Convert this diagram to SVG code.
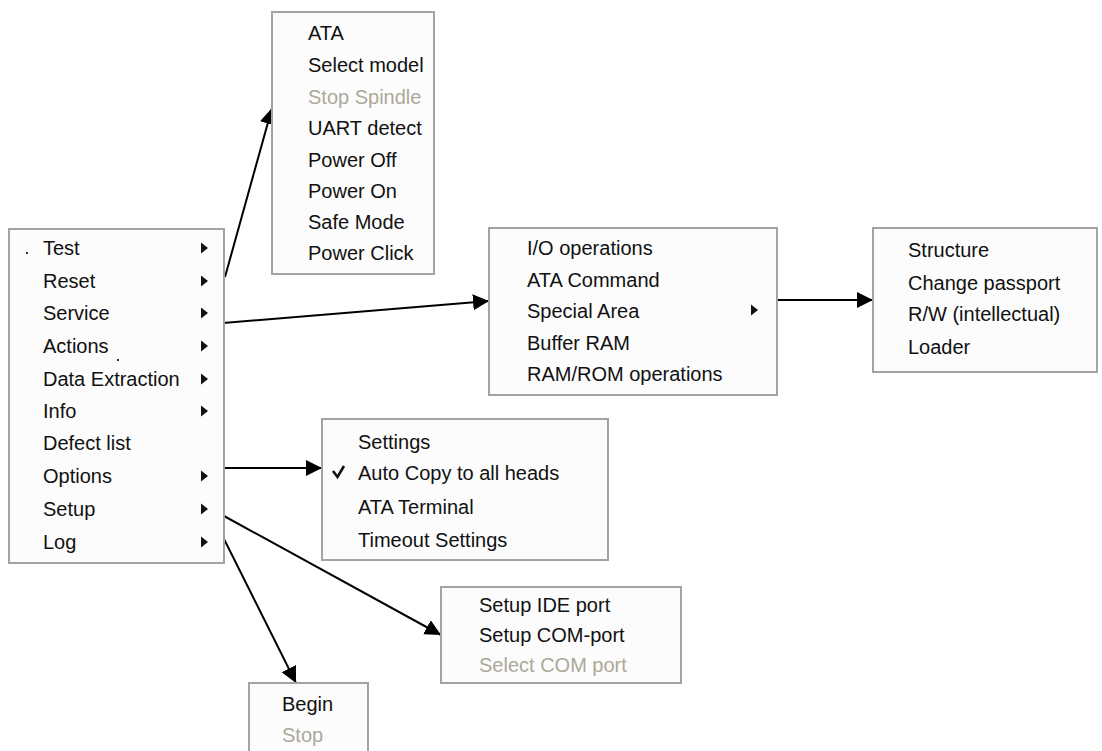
<svg xmlns="http://www.w3.org/2000/svg" width="1102" height="751" viewBox="0 0 1102 751">
<style>
.box{fill:#fcfcfc;stroke:#a3a3a3;stroke-width:2}
.t{font-family:"Liberation Sans",Arial,sans-serif;font-size:20px;fill:#111}
.g{fill:#aca899}
.tri{fill:#111}
.c{stroke:#000;stroke-width:2;fill:none;marker-end:url(#ah)}
</style>
<defs>
<marker id="ah" markerUnits="userSpaceOnUse" markerWidth="16" markerHeight="16" refX="16" refY="8" orient="auto">
<path d="M0,0 L16,8 L0,16 z" fill="#000"/>
</marker>
</defs>
<rect width="1102" height="751" fill="#fff"/>
<g id="connectors">
<line class="c" x1="225" y1="277" x2="272" y2="108"/>
<line class="c" x1="223" y1="323" x2="489" y2="301"/>
<line class="c" x1="777" y1="300" x2="873" y2="300"/>
<line class="c" x1="224" y1="468" x2="322" y2="468"/>
<line class="c" x1="224" y1="516" x2="441" y2="635"/>
<line class="c" x1="224" y1="539" x2="296" y2="683"/>
</g>
<g id="main-menu">
<rect class="box" x="9" y="229" width="215" height="334"/>
<rect x="26" y="252" width="2" height="2" fill="#333"/>
<rect x="117" y="359" width="2" height="2" fill="#333"/>
<text class="t" x="43" y="255">Test</text>
<text class="t" x="43" y="288">Reset</text>
<text class="t" x="43" y="320">Service</text>
<text class="t" x="43" y="353">Actions</text>
<text class="t" x="43" y="386">Data Extraction</text>
<text class="t" x="43" y="418">Info</text>
<text class="t" x="43" y="450">Defect list</text>
<text class="t" x="43" y="483">Options</text>
<text class="t" x="43" y="516">Setup</text>
<text class="t" x="43" y="549">Log</text>
<path class="tri" d="M201,242.5 L208,248 L201,253.5z"/>
<path class="tri" d="M201,275.5 L208,281 L201,286.5z"/>
<path class="tri" d="M201,307.5 L208,313 L201,318.5z"/>
<path class="tri" d="M201,340.5 L208,346 L201,351.5z"/>
<path class="tri" d="M201,373.5 L208,379 L201,384.5z"/>
<path class="tri" d="M201,405.5 L208,411 L201,416.5z"/>
<path class="tri" d="M201,470.5 L208,476 L201,481.5z"/>
<path class="tri" d="M201,503.5 L208,509 L201,514.5z"/>
<path class="tri" d="M201,536.5 L208,542 L201,547.5z"/>
</g>
<g id="test-menu">
<rect class="box" x="272" y="12" width="162" height="262"/>
<text class="t" x="308" y="40">ATA</text>
<text class="t" x="308" y="72">Select model</text>
<text class="t g" x="308" y="104">Stop Spindle</text>
<text class="t" x="308" y="135">UART detect</text>
<text class="t" x="308" y="167">Power Off</text>
<text class="t" x="308" y="198">Power On</text>
<text class="t" x="308" y="229">Safe Mode</text>
<text class="t" x="308" y="260">Power Click</text>
</g>
<g id="service-menu">
<rect class="box" x="489" y="228" width="288" height="167"/>
<text class="t" x="527" y="255">I/O operations</text>
<text class="t" x="527" y="287">ATA Command</text>
<text class="t" x="527" y="318">Special Area</text>
<text class="t" x="527" y="350">Buffer RAM</text>
<text class="t" x="527" y="381">RAM/ROM operations</text>
<path class="tri" d="M751,304.5 L758,310 L751,315.5z"/>
</g>
<g id="special-area-menu">
<rect class="box" x="873" y="228" width="224" height="144"/>
<text class="t" x="908" y="257">Structure</text>
<text class="t" x="908" y="290">Change passport</text>
<text class="t" x="908" y="321">R/W (intellectual)</text>
<text class="t" x="908" y="354">Loader</text>
</g>
<g id="options-menu">
<rect class="box" x="322" y="419" width="286" height="141"/>
<text class="t" x="358" y="449">Settings</text>
<path d="M333,471 L337.5,477 L344,466" stroke="#111" stroke-width="2.6" fill="none"/>
<text class="t" x="358" y="480">Auto Copy to all heads</text>
<text class="t" x="358" y="514">ATA Terminal</text>
<text class="t" x="358" y="547">Timeout Settings</text>
</g>
<g id="setup-menu">
<rect class="box" x="441" y="587" width="240" height="96"/>
<text class="t" x="479" y="612">Setup IDE port</text>
<text class="t" x="479" y="642">Setup COM-port</text>
<text class="t g" x="479" y="672">Select COM port</text>
</g>
<g id="log-menu">
<rect class="box" x="249" y="683" width="119" height="80"/>
<text class="t" x="282" y="711">Begin</text>
<text class="t g" x="282" y="742">Stop</text>
</g>
</svg>
